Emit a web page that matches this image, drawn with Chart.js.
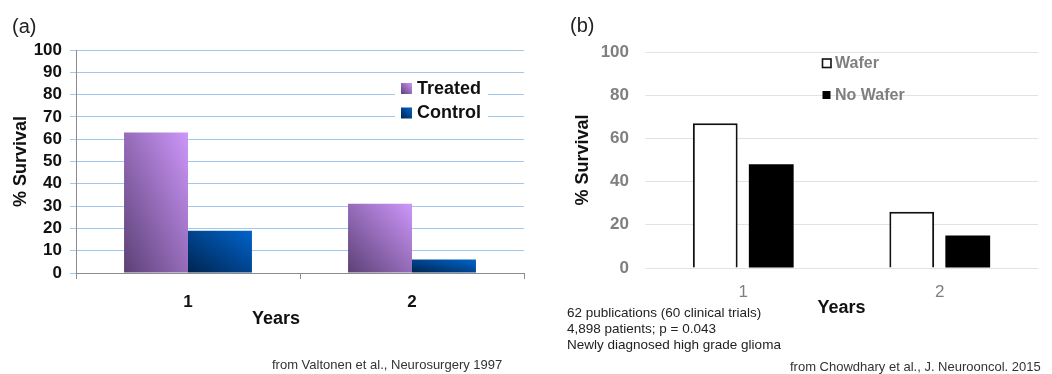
<!DOCTYPE html>
<html><head><meta charset="utf-8">
<script src="https://cdn.jsdelivr.net/npm/chart.js@4.4.1/dist/chart.umd.min.js"></script>
<style>
html,body{margin:0;padding:0;background:#fff;}
body{width:1052px;height:374px;position:relative;overflow:hidden;font-family:'Liberation Sans',Arial,Helvetica,sans-serif;}
canvas{position:absolute;top:0;}
#ca{left:0;} #cb{left:530px;}
.t{position:absolute;white-space:nowrap;}
</style></head><body>
<canvas id="ca" width="530" height="374"></canvas>
<canvas id="cb" width="522" height="374"></canvas>
<div class="t" style="left:12px;top:14px;font-size:20px;line-height:24px;color:#222">(a)</div>
<div class="t" style="left:570px;top:13px;font-size:20px;line-height:24px;color:#222">(b)</div>
<div class="t" style="left:272px;top:357px;font-size:13px;line-height:16px;color:#333">from Valtonen et al., Neurosurgery 1997</div>
<div class="t" style="left:567px;top:305px;font-size:13.5px;line-height:16px;color:#222">62 publications (60 clinical trials)<br>4,898 patients; p = 0.043<br>Newly diagnosed high grade glioma</div>
<div class="t" style="left:790px;top:359px;font-size:13px;line-height:16px;color:#333">from Chowdhary et al., J. Neurooncol. 2015</div>
<script>
// ---- data ----
const yearsA = ['1', '2'];
const treatedA = [63, 31];
const controlA = [19, 6];
const seriesNamesA = ['Treated', 'Control'];
const yTitleA = '% Survival';
const xTitleA = 'Years';

const yearsB = ['1', '2'];
const waferB = [67, 26];
const noWaferB = [48, 15];
const seriesNamesB = ['Wafer', 'No Wafer'];
const yTitleB = '% Survival';
const xTitleB = 'Years';

// ---- styles ----
const FONT = "'Liberation Sans', Arial, Helvetica, sans-serif";
Chart.defaults.font.family = FONT;
const gradColsA = [['#5c4076', '#cd97fa'], ['#00244f', '#0064cc']];
const CAT_A = 0.571, BAR_A = 1.0;

function diag(ctx, x0, y0, x1, y1, c0, c1) {
  const w = x1 - x0, h = y1 - y0;
  const cx = (x0 + x1) / 2, cy = (y0 + y1) / 2;
  const L = Math.hypot(w, h) || 1;
  const ux = h / L, uy = -w / L, half = w * h / L;
  const g = ctx.createLinearGradient(cx - ux * half, cy - uy * half, cx + ux * half, cy + uy * half);
  g.addColorStop(0, c0); g.addColorStop(1, c1);
  return g;
}

function barGrad(dsIndex) {
  const cols = gradColsA[dsIndex];
  return (c) => {
    const chart = c.chart, area = chart.chartArea;
    if (!area || c.type !== 'data') return cols[1];
    const xs = chart.scales.x, ys = chart.scales.y;
    const n = chart.data.labels.length, nd = chart.data.datasets.length;
    const band = (area.right - area.left) / n;
    const group = band * CAT_A, slot = group / nd, bw = slot * BAR_A;
    const center = xs.getPixelForValue(c.dataIndex);
    const bc = center - group / 2 + slot * (c.datasetIndex + 0.5);
    const top = ys.getPixelForValue(c.raw), bot = ys.getPixelForValue(0);
    return diag(chart.ctx, bc - bw / 2, top, bc + bw / 2, bot, cols[0], cols[1]);
  };
}

const legendA = {
  id: 'legendA',
  afterDraw(chart) {
    const ctx = chart.ctx; ctx.save();
    ctx.fillStyle = '#fff'; ctx.fillRect(395, 76, 93, 47);
    chart.data.datasets.forEach((ds, i) => {
      const cy = 88.5 + i * 24.5;
      ctx.fillStyle = diag(ctx, 401, cy - 5.5, 412, cy + 5.5, gradColsA[i][0], gradColsA[i][1]);
      ctx.fillRect(401, cy - 5.5, 11, 11);
      ctx.fillStyle = '#111'; ctx.font = 'bold 18px ' + FONT;
      ctx.textBaseline = 'middle'; ctx.textAlign = 'left';
      ctx.fillText(ds.label, 417, cy + 0.5);
    });
    ctx.fillStyle = '#111'; ctx.font = 'bold 18px ' + FONT;
    ctx.textAlign = 'center'; ctx.textBaseline = 'middle';
    ctx.fillText(xTitleA, 276, 319.5);
    ctx.restore();
  }
};

new Chart(document.getElementById('ca'), {
  type: 'bar',
  data: {
    labels: yearsA,
    datasets: [
      { label: seriesNamesA[0], data: treatedA, backgroundColor: barGrad(0), borderWidth: 0, categoryPercentage: CAT_A, barPercentage: BAR_A },
      { label: seriesNamesA[1], data: controlA, backgroundColor: barGrad(1), borderWidth: 0, categoryPercentage: CAT_A, barPercentage: BAR_A }
    ]
  },
  options: {
    responsive: false, animation: false,
    layout: { padding: { left: 0, right: 6, top: 50, bottom: 0 } },
    plugins: { legend: { display: false }, tooltip: { enabled: false } },
    scales: {
      x: {
        grid: { offset: true, drawOnChartArea: false, drawTicks: true, tickLength: 6, color: '#8c8c8c' },
        border: { color: '#8c8c8c' },
        ticks: { font: { size: 17, weight: 'bold' }, color: '#111', padding: 13 },
        afterFit: s => { s.height = 101; }
      },
      y: {
        min: 0, max: 100,
        ticks: { stepSize: 10, autoSkip: false, maxTicksLimit: 20, font: { size: 17, weight: 'bold' }, color: '#111', padding: 8 },
        grid: { color: '#a3c7e8', tickLength: 6 },
        border: { color: '#8c8c8c' },
        title: { display: true, text: yTitleA, font: { size: 18, weight: 'bold' }, color: '#111', padding: { top: 10, bottom: 0 } },
        afterFit: s => { s.width = 76; }
      }
    }
  },
  plugins: [legendA]
});

const legendB = {
  id: 'legendB',
  afterDraw(chart) {
    const ctx = chart.ctx; ctx.save();
    ctx.strokeStyle = '#111'; ctx.lineWidth = 1.6;
    ctx.strokeRect(292.5, 59, 8.5, 8.5);
    ctx.fillStyle = '#000'; ctx.fillRect(292.5, 91, 8, 8);
    ctx.fillStyle = '#7f7f7f'; ctx.font = 'bold 16px ' + FONT;
    ctx.textBaseline = 'middle'; ctx.textAlign = 'left';
    ctx.fillText(chart.data.datasets[0].label, 305, 63.5);
    ctx.fillText(chart.data.datasets[1].label, 305, 95.5);
    ctx.restore();
  }
};

new Chart(document.getElementById('cb'), {
  type: 'bar',
  data: {
    labels: yearsB,
    datasets: [
      { label: seriesNamesB[0], data: waferB, backgroundColor: '#ffffff', borderColor: '#111', borderWidth: 2, categoryPercentage: 0.57, barPercentage: 0.8 },
      { label: seriesNamesB[1], data: noWaferB, backgroundColor: '#000000', borderColor: '#000', borderWidth: 0, categoryPercentage: 0.57, barPercentage: 0.8 }
    ]
  },
  options: {
    responsive: false, animation: false,
    layout: { padding: { left: 0, right: 14, top: 52, bottom: 0 } },
    plugins: { legend: { display: false }, tooltip: { enabled: false } },
    scales: {
      x: {
        grid: { display: false },
        border: { display: false },
        ticks: { font: { size: 17 }, color: '#7f7f7f', padding: 6 },
        title: { display: true, text: xTitleB, font: { size: 18, weight: 'bold' }, color: '#111', padding: { top: 0, bottom: 55 } },
        afterFit: s => { s.height = 106; }
      },
      y: {
        min: 0, max: 100,
        ticks: { stepSize: 20, font: { size: 17, weight: 'bold' }, color: '#7f7f7f', padding: 16 },
        grid: { color: '#e2e2e2', drawTicks: false },
        border: { display: false },
        title: { display: true, text: yTitleB, font: { size: 18, weight: 'bold' }, color: '#111', padding: { top: 42, bottom: 0 } },
        afterFit: s => { s.width = 115; }
      }
    }
  },
  plugins: [legendB]
});
</script>
</body></html>
